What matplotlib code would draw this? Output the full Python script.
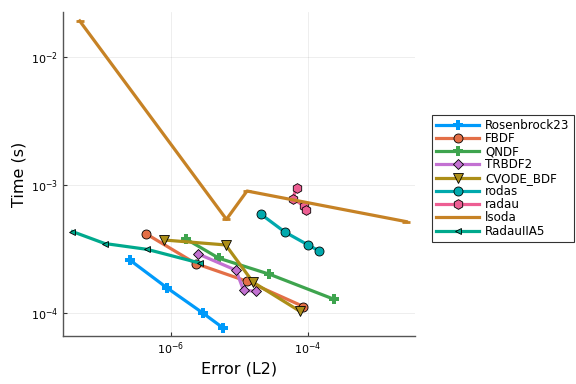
import numpy as np
import matplotlib
matplotlib.use('Agg')
import matplotlib.pyplot as plt

# work-precision data (error, time)
ros23_err = [2.53e-7, 8.83e-7, 2.90e-6, 5.71e-6]
ros23_t = [2.61e-4, 1.58e-4, 1.01e-4, 7.73e-5]
fbdf_err = [4.33e-7, 2.34e-6, 1.29e-5, 8.57e-5]
fbdf_t = [4.19e-4, 2.44e-4, 1.78e-4, 1.13e-4]
qndf_err = [1.69e-6, 5.06e-6, 2.74e-5, 2.37e-4]
qndf_t = [3.79e-4, 2.69e-4, 2.02e-4, 1.29e-4]
trbdf2_err = [2.47e-6, 8.93e-6, 1.15e-5, 1.73e-5]
trbdf2_t = [2.92e-4, 2.17e-4, 1.51e-4, 1.49e-4]
cvode_err = [7.91e-7, 6.32e-6, 1.58e-5, 7.57e-5]
cvode_t = [3.74e-4, 3.42e-4, 1.75e-4, 1.04e-4]
rodas_err = [2.07e-5, 4.58e-5, 1.00e-4, 1.42e-4]
rodas_t = [5.93e-4, 4.32e-4, 3.42e-4, 3.09e-4]
radau_err = [6.84e-5, 5.98e-5, 8.87e-5, 9.48e-5]
radau_t = [9.57e-4, 7.87e-4, 6.87e-4, 6.46e-4]
lsoda_err = [4.72e-8, 6.47e-6, 1.29e-5, 2.71e-3]
lsoda_t = [1.92e-2, 5.42e-4, 9.02e-4, 5.20e-4]
radauIIA5_err = [3.70e-8, 1.09e-7, 4.52e-7, 2.64e-6]
radauIIA5_t = [4.35e-4, 3.51e-4, 3.16e-4, 2.47e-4]

series = [
    ('Rosenbrock23', ros23_err, ros23_t, '#009AFA', 'P', 6.5),
    ('FBDF', fbdf_err, fbdf_t, '#E36F47', 'o', 6.5),
    ('QNDF', qndf_err, qndf_t, '#3EA44E', 'P', 6.5),
    ('TRBDF2', trbdf2_err, trbdf2_t, '#C371D2', 'D', 5.5),
    ('CVODE_BDF', cvode_err, cvode_t, '#AC8E18', 'v', 7.5),
    ('rodas', rodas_err, rodas_t, '#00A9AD', 'o', 6.5),
    ('radau', radau_err, radau_t, '#ED5E93', 'h', 7),
    ('lsoda', lsoda_err, lsoda_t, '#C68225', '_', 6),
    ('RadauIIA5', radauIIA5_err, radauIIA5_t, '#00A98D', '<', 5),
]

fig = plt.figure(figsize=(5.76, 3.84), dpi=100)
ax = fig.add_axes([0.109, 0.125, 0.611, 0.844])

for name, e, t, c, m, ms in series:
    if m in ('P', '_'):
        ax.plot(e, t, color=c, lw=2.3, marker=m, ms=ms, mec=c, mew=2 if m == '_' else 0,
                mfc=c, label=name)
    else:
        ax.plot(e, t, color=c, lw=2.3, marker=m, ms=ms, mec='black', mew=0.6,
                mfc=c, label=name)

ax.set_xscale('log')
ax.set_yscale('log')
ax.set_xlim(10**-7.573, 10**-2.446)
ax.set_ylim(10**-4.177, 10**-1.646)
ax.set_xticks([1e-6, 1e-4])
ax.set_yticks([1e-4, 1e-3, 1e-2])
ax.minorticks_off()
ax.grid(True, color='black', alpha=0.08, lw=0.6)
ax.tick_params(direction='in', length=3, labelsize=8, colors='#333333', labelcolor='black')
for s in ['top', 'right']:
    ax.spines[s].set_visible(False)
for s in ['left', 'bottom']:
    ax.spines[s].set_color('#555555')
    ax.spines[s].set_linewidth(1.0)
ax.set_xlabel('Error (L2)', fontsize=11.5, labelpad=3)
ax.set_ylabel('Time (s)', fontsize=11.5, labelpad=3)

leg = ax.legend(loc='center left', bbox_to_anchor=(0.75, 0.536), bbox_transform=fig.transFigure,
                borderaxespad=0, fontsize=8.6, frameon=True, fancybox=False, edgecolor='black',
                handlelength=3.6, handleheight=0.6, labelspacing=0.02, borderpad=0.35,
                handletextpad=0.5)
leg.get_frame().set_linewidth(0.8)

fig.savefig('out.png', dpi=100)
